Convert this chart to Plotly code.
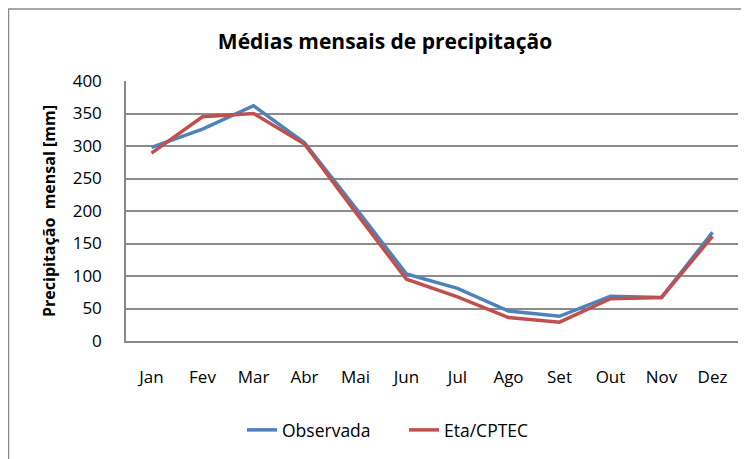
import plotly.graph_objects as go

months = ["Jan", "Fev", "Mar", "Abr", "Mai", "Jun", "Jul", "Ago", "Set", "Out", "Nov", "Dez"]
observada = [298, 326, 362, 305, 205, 103, 81, 46, 38, 69, 67, 167]
eta_cptec = [289, 345, 350, 303, 198, 95, 68, 36, 29, 65, 67, 161]
y_ticks = [0, 50, 100, 150, 200, 250, 300, 350, 400]

FONT = "Open Sans"
# page body has an 8px margin; figure coordinates are page coordinates minus 8
W, H = 741, 451
L, R, T, B = 118, 11, 73, 118
PW, PH = W - L - R, H - T - B

fig = go.Figure()
fig.add_trace(go.Scatter(x=months, y=observada, mode="lines", name="Observada",
                         line=dict(color="#4F81BD", width=3.5)))
fig.add_trace(go.Scatter(x=months, y=eta_cptec, mode="lines", name="Eta/CPTEC",
                         line=dict(color="#C0504D", width=3.5)))

fig.update_layout(
    width=W, height=H,
    margin=dict(l=L, r=R, t=T, b=B),
    paper_bgcolor="white", plot_bgcolor="white",
    font=dict(family=FONT, color="#000000", size=17),
    title=dict(text="<b>Médias mensais de precipitação</b>", x=377/W, xanchor="center",
               y=1 - 34/H, yanchor="middle", font=dict(size=21, family=FONT)),
    showlegend=True,
    legend=dict(orientation="h", x=(234-L)/PW, xanchor="left", y=(H-B-422)/PH, yanchor="middle",
                font=dict(size=17.5), bgcolor="rgba(0,0,0,0)",
                entrywidth=117, entrywidthmode="pixels"),
    xaxis=dict(type="category", range=[-0.5, 11.5], showgrid=False, showline=True,
               linecolor="#888888", linewidth=1.5,
               ticks="", ticklabelstandoff=20, tickfont=dict(size=17)),
    yaxis=dict(range=[0, 400], tickvals=y_ticks, showgrid=True, gridcolor="#8c8c8c", gridwidth=1.5,
               showline=True, linecolor="#888888", linewidth=1.5, ticks="",
               tickfont=dict(size=17), ticklabelstandoff=19, zeroline=False,
               title=dict(text="<b>Precipitação  mensal [mm]</b>", font=dict(size=16), standoff=13)),
    shapes=[dict(type="rect", xref="paper", yref="paper",
                 x0=(0.5-L)/PW, x1=(736-L)/PW, y0=-0.6, y1=(H-B-1)/PH,
                 line=dict(color="#8a8a8a", width=1.5), fillcolor="rgba(0,0,0,0)", layer="below")],
)

fig.write_html("out.html")
